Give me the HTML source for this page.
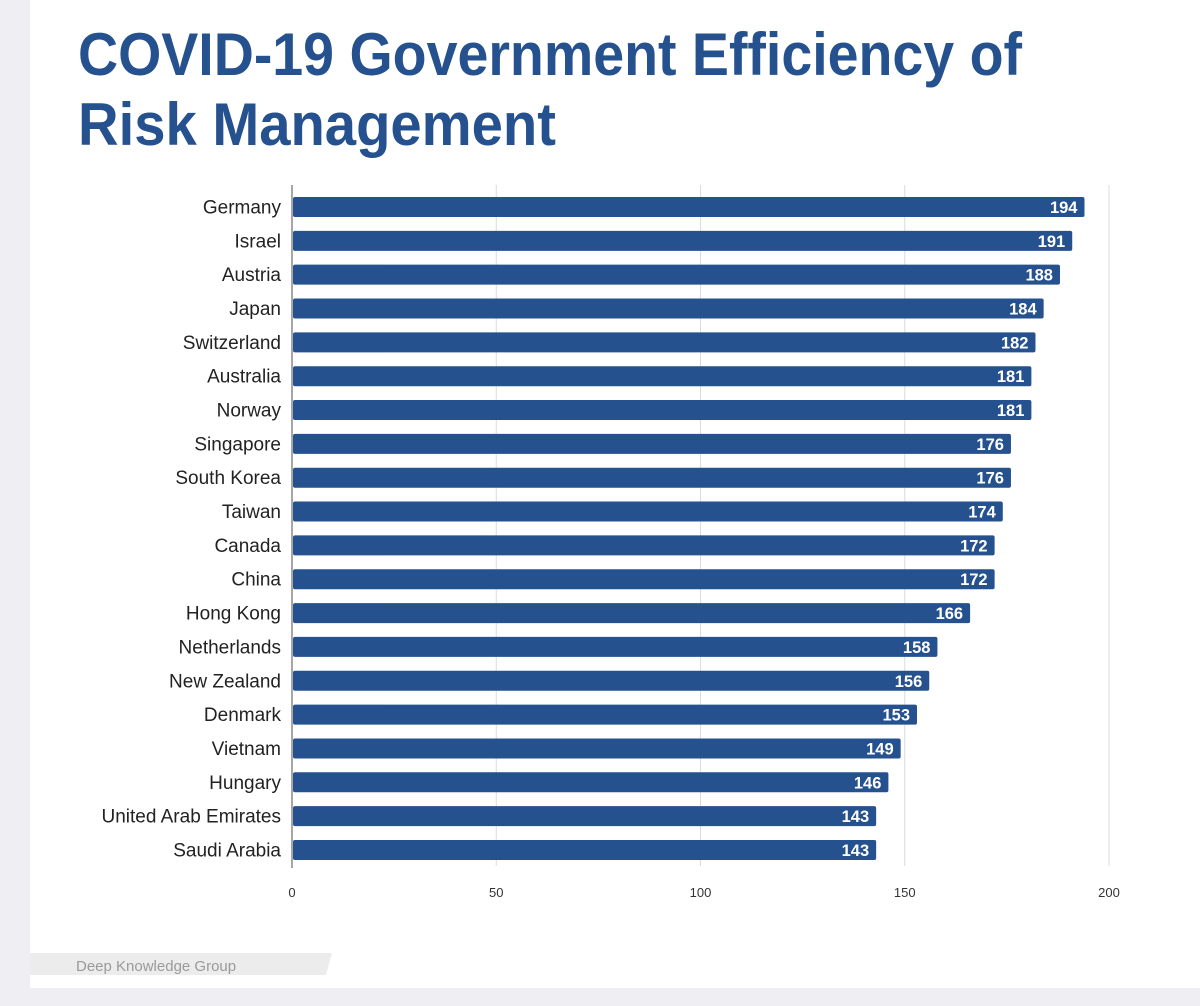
<!DOCTYPE html>
<html><head><meta charset="utf-8"><style>
html,body{margin:0;padding:0;background:#eeeef3;}
svg{display:block;font-family:"Liberation Sans",sans-serif;}
</style></head><body>
<svg width="1200" height="1006" viewBox="0 0 1200 1006">
<rect x="30" y="0" width="1170" height="988" fill="#ffffff"/>
<text x="78" y="75" font-size="60" font-weight="bold" fill="#25518f" textLength="944" lengthAdjust="spacingAndGlyphs">COVID-19 Government Efficiency of</text>
<text x="78" y="145" font-size="60" font-weight="bold" fill="#25518f" textLength="478" lengthAdjust="spacingAndGlyphs">Risk Management</text>
<g id="plot"></g>
<polygon points="30,953 332,953 326,975 30,975" fill="#ececec"/>
<text x="76" y="971" font-size="15" fill="#9a9a9a">Deep Knowledge Group</text>
</svg>
<script>
const categories=["Germany","Israel","Austria","Japan","Switzerland","Australia","Norway","Singapore","South Korea","Taiwan","Canada","China","Hong Kong","Netherlands","New Zealand","Denmark","Vietnam","Hungary","United Arab Emirates","Saudi Arabia"];
const values=[194,191,188,184,182,181,181,176,176,174,172,172,166,158,156,153,149,146,143,143];
const ticks=[0,50,100,150,200];
const NS="http://www.w3.org/2000/svg";
const g=document.getElementById('plot');
const x0=292,x1=1109,vmax=200;
const xs=v=>x0+(x1-x0)*v/vmax;
const yTop=190,step=33.84,bh=20;
const yc=i=>yTop+step*i+17;
function mk(t,a){const e=document.createElementNS(NS,t);for(const k in a)e.setAttribute(k,a[k]);g.appendChild(e);return e;}
ticks.forEach((t,i)=>{
 const l=mk('line',{x1:xs(t),x2:xs(t),y1:185,y2:i===0?868:866,stroke:i===0?'#888':'#dcdcdc','stroke-width':i===0?1.5:1});
 
 
 const tx=mk('text',{x:xs(t),y:897,'font-size':13,'text-anchor':'middle',fill:'#333'});
 tx.textContent=t;
 
 
});
categories.forEach((c,i)=>{
 const y=yc(i);
 const r=mk('rect',{x:x0+1,y:y-bh/2,width:xs(values[i])-x0-1,height:bh,rx:2,fill:'#25518f'});
 
 
 const lb=mk('text',{x:281,y:y+6.5,'font-size':19,'text-anchor':'end',fill:'#222'});
 lb.textContent=c;
 
 
 const vl=mk('text',{x:xs(values[i])-7,y:y+6,'font-size':16.5,'font-weight':'bold','text-anchor':'end',fill:'#fff'});
 vl.textContent=values[i];
 
 
});
</script>
</body></html>
